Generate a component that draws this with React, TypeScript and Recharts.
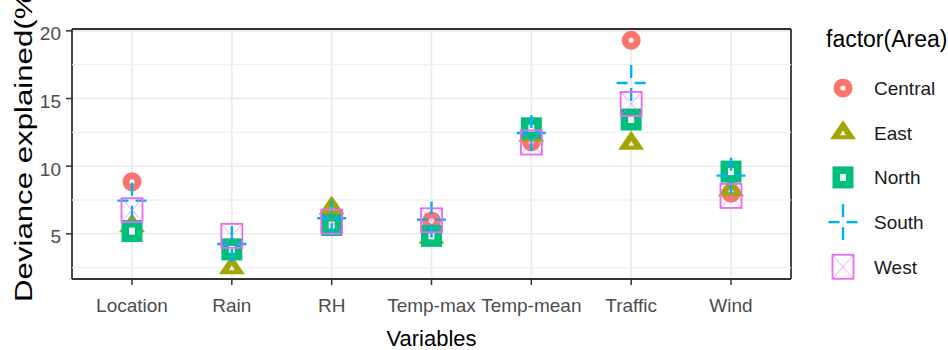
import { ComposedChart, Scatter, XAxis, YAxis, CartesianGrid, ReferenceLine } from "recharts";

const variables = ["Location", "Rain", "RH", "Temp-max", "Temp-mean", "Traffic", "Wind"];
const areas = ["Central", "East", "North", "South", "West"];
const colors = ["#F8766D", "#A3A500", "#00BF7D", "#00B0F6", "#E76BF3"];

const central = [8.85, 3.9, 5.65, 5.95, 11.8, 19.3, 8.0];
const east = [5.6, 2.5, 6.9, 4.75, 12.3, 11.7, 8.25];
const north = [5.2, 3.85, 5.65, 4.85, 12.8, 13.45, 9.6];
const south = [7.45, 4.25, 6.15, 6.05, 12.45, 16.15, 9.3];
const west = [6.75, 4.85, 5.9, 6.0, 11.75, 14.6, 7.8];

const yTicks = [5, 10, 15, 20];
const yMinorTicks = [2.5, 7.5, 12.5, 17.5];

const seriesValues = [central, east, north, south, west];

const data = variables.map((name, i) => {
  const row: Record<string, string | number> = { name };
  areas.forEach((a, k) => {
    row[a] = seriesValues[k][i];
  });
  return row;
});

// ggplot style 5% expansion of the data range
const allValues = seriesValues.flat();
const lo = Math.min(...allValues);
const hi = Math.max(...allValues);
const pad = (hi - lo) * 0.05;

const FONT = "Liberation Sans, Arial, sans-serif";

function Marker({ area, cx, cy }: { area: string; cx: number; cy: number }) {
  const color = colors[areas.indexOf(area)];
  if (area === "Central") {
    return (
      <g>
        <circle cx={cx} cy={cy} r={9.5} fill={color} />
        <circle cx={cx} cy={cy} r={2.6} fill="#eeeeee" />
      </g>
    );
  }
  if (area === "East") {
    return (
      <g>
        <polygon points={`${cx},${cy - 12.5} ${cx - 13},${cy + 6.5} ${cx + 13},${cy + 6.5}`} fill={color} />
        <polygon points={`${cx},${cy - 2.5} ${cx - 3},${cy + 2.5} ${cx + 3},${cy + 2.5}`} fill="#eeeeee" />
      </g>
    );
  }
  if (area === "North") {
    return (
      <g>
        <rect x={cx - 10.5} y={cy - 11} width={21} height={22} fill={color} />
        <rect x={cx - 3} y={cy - 3.5} width={6} height={7} fill="#eeeeee" />
      </g>
    );
  }
  if (area === "South") {
    return (
      <g stroke={color} strokeWidth={2.4}>
        <line x1={cx - 14.5} y1={cy} x2={cx - 3.5} y2={cy} />
        <line x1={cx + 3.5} y1={cy} x2={cx + 14.5} y2={cy} />
        <line x1={cx} y1={cy - 18} x2={cx} y2={cy - 5} />
        <line x1={cx} y1={cy + 5} x2={cx} y2={cy + 18} />
      </g>
    );
  }
  return (
    <g stroke={color} fill="none">
      <rect x={cx - 10.5} y={cy - 12} width={21} height={24} strokeWidth={1.8} />
      <line x1={cx - 10.5} y1={cy - 12} x2={cx + 10.5} y2={cy + 12} strokeWidth={1} strokeOpacity={0.6} />
      <line x1={cx + 10.5} y1={cy - 12} x2={cx - 10.5} y2={cy + 12} strokeWidth={1} strokeOpacity={0.6} />
    </g>
  );
}

const XTick = ({ x, y, payload }: any) => (
  <text x={x} y={y} dy={27} textAnchor="middle" fill="#4D4D4D" fontSize={19} fontFamily={FONT}>
    {payload.value}
  </text>
);

const YTick = ({ x, y, payload }: any) => (
  <text x={x} y={y} dy={9.5} textAnchor="end" fill="#4D4D4D" fontSize={19} fontFamily={FONT}>
    {payload.value}
  </text>
);

const YLabel = ({ viewBox }: any) => {
  const { x, y, height } = viewBox;
  return (
    <text
      transform={`translate(${x - 8}, ${y + height + 23}) rotate(-90) scale(1.3, 1)`}
      fontSize={24}
      fontFamily={FONT}
      fill="#000"
      textAnchor="start"
    >
      Deviance explained(%)
    </text>
  );
};

function LegendBox() {
  return (
    <svg width={148} height={350} style={{ position: "absolute", left: 800, top: 0 }}>
      <text x={26} y={47} fontSize={23} fontFamily={FONT} fill="#000">
        factor(Area)
      </text>
      {areas.map((a, i) => {
        const cy = 88 + i * 44.7;
        return (
          <g key={a}>
            <Marker area={a} cx={43} cy={cy} />
            <text x={74} y={cy + 7} fontSize={19} fontFamily={FONT} fill="#1a1a1a">
              {a}
            </text>
          </g>
        );
      })}
    </svg>
  );
}

export default function App() {
  return (
    <div style={{ position: "absolute", left: 0, top: 0, width: 948, height: 350, background: "#fff" }}>
      <ComposedChart width={948} height={350} data={data} margin={{ top: 29, right: 157, bottom: 0, left: 40 }}>
        <CartesianGrid stroke="#EBEBEB" strokeWidth={1.6} />
        {yMinorTicks.map((v) => (
          <ReferenceLine key={v} y={v} stroke="#F0F0F0" strokeWidth={1.3} />
        ))}
        <XAxis
          dataKey="name"
          type="category"
          height={71}
          padding={{ left: 60, right: 60 }}
          axisLine={false}
          tickLine={{ stroke: "#333333", strokeWidth: 1.5 }}
          tickSize={6}
          tickMargin={0}
          tick={<XTick />}
          interval={0}
          label={{ value: "Variables", position: "insideBottom", offset: 4, fill: "#000", fontSize: 22, fontFamily: FONT }}
        />
        <YAxis
          type="number"
          width={32}
          domain={[lo - pad, hi + pad]}
          ticks={yTicks}
          allowDataOverflow
          axisLine={false}
          tickLine={{ stroke: "#333333", strokeWidth: 1.5 }}
          tickSize={6}
          tickMargin={5}
          tick={<YTick />}
          label={YLabel}
        />
        {areas.map((a) => (
          <Scatter
            key={a}
            name={a}
            dataKey={a}
            fill={colors[areas.indexOf(a)]}
            isAnimationActive={false}
            shape={(p: any) => <Marker area={a} cx={p.cx} cy={p.cy} />}
          />
        ))}
        <CartesianGrid
          stroke="#333333"
          strokeWidth={1.8}
          horizontalCoordinatesGenerator={({ offset }: any) => [offset.top, offset.top + offset.height]}
          verticalCoordinatesGenerator={({ offset }: any) => [offset.left, offset.left + offset.width]}
        />
      </ComposedChart>
      <LegendBox />
    </div>
  );
}
